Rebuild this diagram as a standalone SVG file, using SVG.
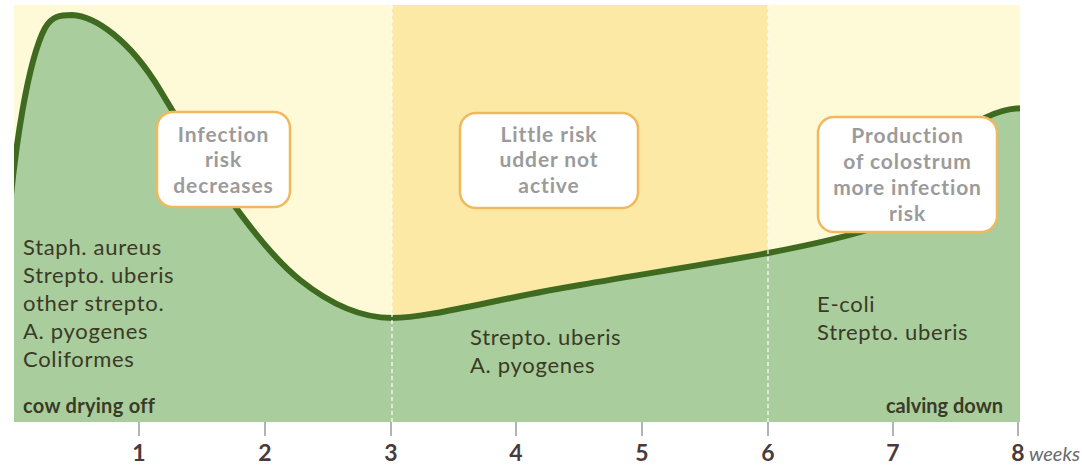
<svg xmlns="http://www.w3.org/2000/svg" width="1082" height="469" viewBox="0 0 1082 469">
<style>
.box{fill:#ffffff;stroke:#f1b85c;stroke-width:2.5}
.bt{font-family:Lato,"Open Sans",sans-serif;font-weight:bold;font-size:21px;letter-spacing:0.9px;fill:#9b9b9b;text-anchor:middle}
.lt{font-family:Lato,"Open Sans",sans-serif;font-size:22px;letter-spacing:0.7px;fill:#3a3a26}
.bl{font-family:Lato,"Open Sans",sans-serif;font-weight:bold;font-size:20px;fill:#3a3a26}
.num{font-family:Lato,"Open Sans",sans-serif;font-weight:bold;font-size:23px;fill:#4a3b3a;text-anchor:middle}
.tick{stroke:#9a9a9a;stroke-width:1.5}
.dash{stroke:#ffffff;stroke-width:1.2;stroke-dasharray:4 3}
</style>
<defs>
<clipPath id="frame"><rect x="14" y="5" width="1006" height="417"/></clipPath>
</defs>
<g id="background">
<rect x="14" y="5" width="1006" height="417" fill="#fef9d6"/>
<rect x="392" y="5" width="376" height="417" fill="#fce9a6"/>
</g>
<g id="curve" clip-path="url(#frame)">
<path d="M8,230 C14,150 28,60 45,28 C52,16 60,15 72,15 C95,16 130,40 160,90 C190,140 250,240 300,280 C330,304 360,318 392,318 C430,318 500,298 580,285 C650,273 720,262 768,253 C810,245 850,236 880,226 C920,205 950,150 985,118 C1000,110 1015,108 1025,108 L1025,430 L8,430 Z" fill="#a9cd9d"/>
<path d="M8,230 C14,150 28,60 45,28 C52,16 60,15 72,15 C95,16 130,40 160,90 C190,140 250,240 300,280 C330,304 360,318 392,318 C430,318 500,298 580,285 C650,273 720,262 768,253 C810,245 850,236 880,226 C920,205 950,150 985,118 C1000,110 1015,108 1025,108" fill="none" stroke="#3f6b20" stroke-width="6" stroke-linejoin="round"/>
</g>
<g id="connectors">
<line class="dash" x1="392" y1="5" x2="392" y2="422"/>
<line class="dash" x1="768" y1="5" x2="768" y2="422"/>
<line class="tick" x1="139" y1="422" x2="139" y2="436"/>
<line class="tick" x1="265" y1="422" x2="265" y2="436"/>
<line class="tick" x1="391" y1="422" x2="391" y2="436"/>
<line class="tick" x1="516" y1="422" x2="516" y2="436"/>
<line class="tick" x1="642" y1="422" x2="642" y2="436"/>
<line class="tick" x1="768" y1="422" x2="768" y2="436"/>
<line class="tick" x1="893" y1="422" x2="893" y2="436"/>
<line class="tick" x1="1018" y1="422" x2="1018" y2="436"/>
</g>
<g id="box1">
<rect class="box" x="157" y="112" width="133" height="95" rx="16"/>
<text class="bt" x="223.5" y="142">Infection</text>
<text class="bt" x="223.5" y="167">risk</text>
<text class="bt" x="223.5" y="193">decreases</text>
</g>
<g id="box2">
<rect class="box" x="460" y="113" width="178" height="95" rx="16"/>
<text class="bt" x="549" y="142">Little risk</text>
<text class="bt" x="549" y="167">udder not</text>
<text class="bt" x="549" y="193">active</text>
</g>
<g id="box3">
<rect class="box" x="818" y="117" width="179" height="115" rx="16"/>
<text class="bt" x="907.5" y="143">Production</text>
<text class="bt" x="907.5" y="169">of colostrum</text>
<text class="bt" x="907.5" y="195">more infection</text>
<text class="bt" x="907.5" y="221">risk</text>
</g>
<g id="left-text">
<text class="lt" x="23" y="255">Staph. aureus</text>
<text class="lt" x="23" y="283">Strepto. uberis</text>
<text class="lt" x="23" y="311">other strepto.</text>
<text class="lt" x="23" y="339">A. pyogenes</text>
<text class="lt" x="23" y="367">Coliformes</text>
<text class="bl" x="23" y="413" letter-spacing="0.3">cow drying off</text>
</g>
<g id="mid-text">
<text class="lt" x="470" y="345">Strepto. uberis</text>
<text class="lt" x="470" y="373">A. pyogenes</text>
</g>
<g id="right-text">
<text class="lt" x="817" y="312">E-coli</text>
<text class="lt" x="817" y="340">Strepto. uberis</text>
<text class="bl" x="1003" y="413" text-anchor="end">calving down</text>
</g>
<g id="axis">
<text class="num" x="139" y="461">1</text>
<text class="num" x="265" y="461">2</text>
<text class="num" x="391" y="461">3</text>
<text class="num" x="516" y="461">4</text>
<text class="num" x="642" y="461">5</text>
<text class="num" x="768" y="461">6</text>
<text class="num" x="893" y="461">7</text>
<text class="num" x="1018" y="461">8</text>
<text x="1029" y="461" font-family="Lato,'Open Sans',sans-serif" font-style="italic" font-size="20" fill="#6a6a6a">weeks</text>
</g>
</svg>
